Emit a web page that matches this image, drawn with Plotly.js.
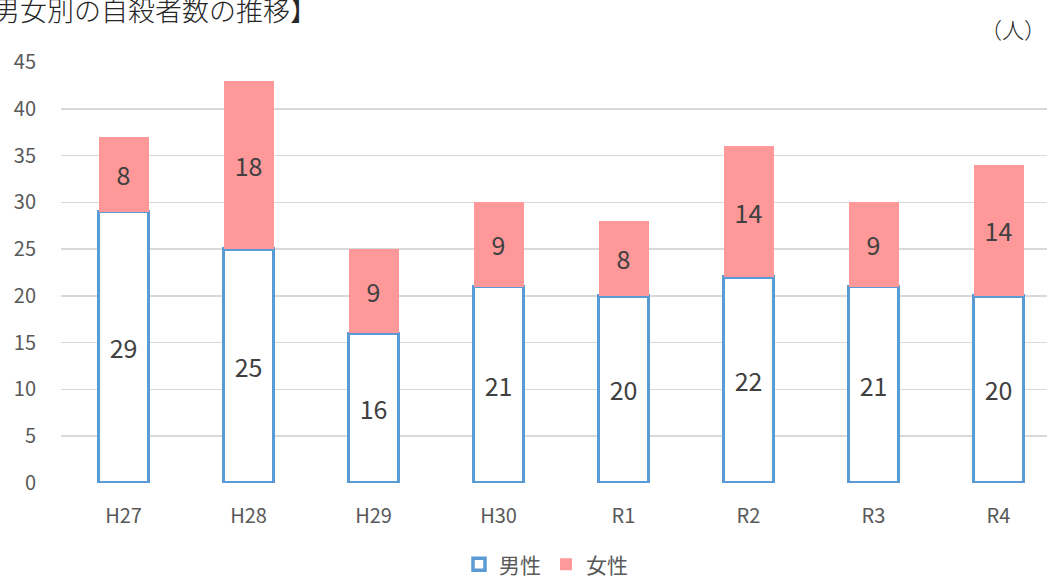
<!DOCTYPE html>
<html>
<head>
<meta charset="utf-8">
<script src="https://cdn.plot.ly/plotly-3.0.1.min.js"></script>
<style>
html,body{margin:0;padding:0;overflow:hidden;background:#fff;}
#chart{width:1061px;height:578px;}
</style>
</head>
<body>
<div id="chart"></div>
<script>
const categories = ['H27','H28','H29','H30','R1','R2','R3','R4'];
const male = [29,25,16,21,20,22,21,20];
const female = [8,18,9,9,8,14,9,14];
const seriesNames = ['男性','女性'];
const chartTitle = '【男女別の自殺者数の推移】';
const unitLabel = '（人）';

const FONT = '"Noto Sans CJK JP", "Noto Sans", sans-serif';

const traces = [
  {
    type:'bar', name:seriesNames[0], x:categories, y:male,
    text:male.map(String), textposition:'inside', insidetextanchor:'middle', textangle:0,
    textfont:{family:FONT,size:25,color:'#404040'},
    marker:{color:'#ffffff', line:{color:'#5B9BD5', width:3.5}},
    hoverinfo:'x+y+name'
  },
  {
    type:'bar', name:seriesNames[1], x:categories, y:female,
    text:female.map(String), textposition:'inside', insidetextanchor:'middle', textangle:0,
    textfont:{family:FONT,size:25,color:'#404040'},
    marker:{color:'#FF9999', line:{width:0}},
    hoverinfo:'x+y+name'
  }
];

const layout = {
  width:1061, height:578,
  margin:{l:61, r:0, t:62, b:95, autoexpand:false},
  barmode:'stack', bargap:0.6,
  paper_bgcolor:'#ffffff', plot_bgcolor:'#ffffff',
  font:{family:FONT, color:'#595959'},
  showlegend:true,
  legend:{orientation:'h', x:0.485, xanchor:'center', y:-0.194, yanchor:'middle',
          font:{family:FONT,size:21,color:'#595959'}, traceorder:'normal', itemwidth:30},
  xaxis:{type:'category', showgrid:false, zeroline:false, showline:false, ticks:'', automargin:false,
         tickfont:{family:FONT,size:20,color:'#595959'}, ticklabelstandoff:19},
  yaxis:{range:[0,45], dtick:5, tick0:0, showgrid:true, gridcolor:'#d9d9d9', gridwidth:1.5,
         zeroline:false, showline:false, ticks:'', ticklabelstandoff:24, automargin:false,
         tickfont:{family:FONT,size:20,color:'#595959'}},
  annotations:[
    {text:chartTitle, xref:'paper', yref:'paper', x:0.258, xanchor:'right', y:1.124, yanchor:'middle',
     showarrow:false, font:{family:FONT,size:27,weight:300,color:'#262626'}},
    {text:unitLabel, xref:'paper', yref:'paper', x:0.952, xanchor:'center', y:1.081, yanchor:'middle',
     showarrow:false, font:{family:FONT,size:22,weight:300,color:'#262626'}}
  ]
};

Plotly.newPlot('chart', traces, layout, {displayModeBar:false, staticPlot:true});
</script>
</body>
</html>
